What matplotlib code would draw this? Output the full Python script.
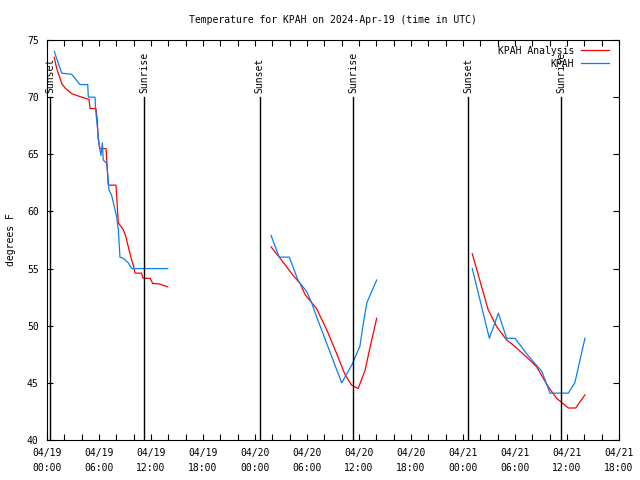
import numpy as np
import matplotlib
matplotlib.use("Agg")
import matplotlib.pyplot as plt

# hours since 2024-04-19 00:00 UTC ; NaN separates data gaps
obs_hours = [0.84, 1.70, 2.85, 3.81, 4.70, 4.77, 5.54, 5.60, 6.03, 6.23, 6.38, 6.49, 6.90, 7.15,
             7.46, 7.77, 8.04, 8.23, 8.42, 8.80, 9.38, 9.77, 13.93, np.nan,
             25.85, 26.80, 27.96, 29.00, 29.96, 30.54, 31.0, 32.0, 33.0, 34.0, 35.2, 36.1,
             36.5, 36.9, 38.04, np.nan,
             49.07, 51.04, 52.08, 53.04, 54.0, 55.5, 57.1, 58.04, 60.15, 60.9, 62.07]
obs_temp = [74.0, 72.1, 72.0, 71.1, 71.1, 70.0, 70.0, 69.0, 65.7, 64.9, 66.0, 64.5, 64.2, 61.9,
            61.4, 60.4, 59.5, 58.4, 56.0, 55.9, 55.5, 55.0, 55.0, np.nan,
            57.9, 56.0, 56.0, 53.9, 53.0, 52.0, 51.0, 49.0, 47.0, 45.0, 46.6, 48.2,
            50.2, 52.0, 54.0, np.nan,
            55.0, 48.9, 51.1, 48.9, 48.9, 47.4, 46.0, 44.1, 44.1, 45.0, 48.9]

ana_hours = [0.84, 1.12, 1.70, 2.08, 2.85, 4.00, 4.85, 4.97, 5.65, 5.80, 5.90, 6.10, 6.81, 6.95,
             7.07, 7.96, 8.12, 8.23, 8.80, 9.10, 9.38, 9.77, 10.0, 10.15, 10.9, 11.1, 11.9,
             12.2, 13.0, 13.93, np.nan,
             25.85, 26.9, 28.4, 29.2, 29.8, 31.1, 32.3, 33.4, 34.4, 35.15, 35.9, 36.7, 37.3,
             38.04, np.nan,
             49.07, 50.9, 51.9, 53.04, 53.8, 55.5, 56.5, 57.8, 58.8, 59.6, 60.15, 61.0, 62.07]
ana_temp = [73.5, 72.5, 71.2, 70.8, 70.3, 70.0, 69.8, 69.0, 69.0, 68.0, 66.4, 65.5, 65.5, 63.8,
            62.3, 62.3, 60.3, 59.0, 58.4, 57.8, 56.9, 55.75, 55.2, 54.6, 54.6, 54.15, 54.15,
            53.7, 53.65, 53.4, np.nan,
            56.9, 55.9, 54.4, 53.7, 52.7, 51.5, 49.6, 47.6, 45.7, 44.8, 44.5, 46.1, 48.2,
            50.65, np.nan,
            56.3, 51.4, 49.9, 48.75, 48.3, 47.15, 46.4, 44.7, 43.65, 43.15, 42.8, 42.8, 43.95]

sun_hours = [0.35, 11.2, 24.55, 35.3, 48.57, 59.35]
sun_labels = ["Sunset", "Sunrise", "Sunset", "Sunrise", "Sunset", "Sunrise"]

xtick_hours = [0, 6, 12, 18, 24, 30, 36, 42, 48, 54, 60, 66]
xtick_labels = ["04/19\n00:00", "04/19\n06:00", "04/19\n12:00", "04/19\n18:00",
                "04/20\n00:00", "04/20\n06:00", "04/20\n12:00", "04/20\n18:00",
                "04/21\n00:00", "04/21\n06:00", "04/21\n12:00", "04/21\n18:00"]

plt.rcParams['font.family'] = ['DejaVu Sans Mono']
FS = 7

fig = plt.figure(figsize=(6.4, 4.8), dpi=100)
ax = fig.add_axes([47/640, 40/480, 572/640, 400/480])

red = '#ff0000'
blue = '#0a80f0'
ax.plot(ana_hours, ana_temp, color=red, lw=0.9, label='KPAH Analysis')
ax.plot(obs_hours, obs_temp, color=blue, lw=0.9, label='KPAH')

for h, lab in zip(sun_hours, sun_labels):
    ax.plot([h, h], [40, 70], color='black', lw=1.0)
    ax.text(h, 70.4, lab, rotation=90, ha='center', va='bottom', fontsize=FS)

ax.set_xlim(0, 66)
ax.set_ylim(40, 75)
ax.set_xticks(xtick_hours)
ax.set_xticklabels(xtick_labels, fontsize=FS, linespacing=1.6)
ax.set_xticks(np.arange(0, 67, 2), minor=True)
ax.set_yticks(np.arange(40, 76, 5))
ax.set_yticklabels([str(v) for v in range(40, 76, 5)], fontsize=FS)
ax.tick_params(axis='both', which='both', direction='in', top=True, right=True,
               length=4, width=0.8, pad=6)
for s in ax.spines.values():
    s.set_linewidth(0.8)

ax.set_ylabel('degrees F', fontsize=FS, labelpad=8)
ax.set_title('Temperature for KPAH on 2024-Apr-19 (time in UTC)', fontsize=FS, pad=12)

leg = ax.legend(loc='upper right', bbox_to_anchor=(0.993, 1.0), frameon=False,
                markerfirst=False, fontsize=FS, handlelength=2.9, handletextpad=0.7,
                labelspacing=0.3, borderaxespad=0.2)
for t in leg.get_texts():
    t.set_ha('right')

fig.savefig('out.png', dpi=100)
